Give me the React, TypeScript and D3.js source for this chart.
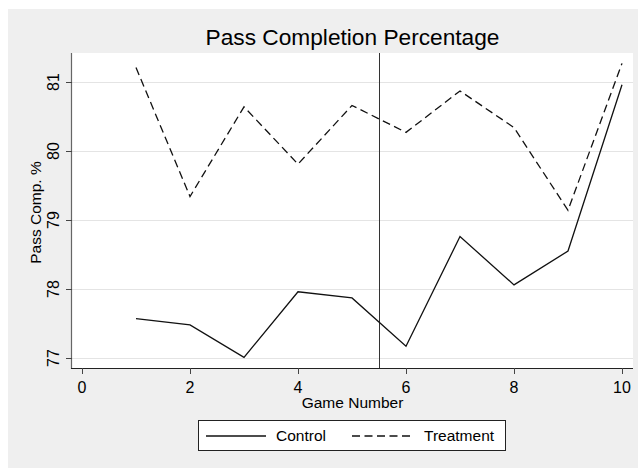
import React from "react";
import * as d3 from "d3";

// Game numbers and completion percentages per group
const games = [1, 2, 3, 4, 5, 6, 7, 8, 9, 10];
const control = [77.57, 77.48, 77.01, 77.96, 77.87, 77.17, 78.76, 78.06, 78.55, 80.96];
const treatment = [81.21, 79.34, 80.64, 79.81, 80.66, 80.27, 80.87, 80.34, 79.14, 81.27];
const xTicks = [0, 2, 4, 6, 8, 10];
const yTicks = [77, 78, 79, 80, 81];
const cutoff = 5.5;

const W = 638;
const H = 468;
const FONT = "'Liberation Sans', Arial, sans-serif";

const plot = { left: 72, right: 633, top: 53, bottom: 368 };

export default function App() {
  // 0..10 maps to 82..622 px, 77..81 maps to 358..82 px
  const x = d3.scaleLinear().domain([0, 10]).range([82, 622]);
  const y = d3.scaleLinear().domain([77, 81]).range([358, 82]);

  const line = d3
    .line<number>()
    .x((_, i) => x(games[i]))
    .y((d) => y(d));

  const cx = (plot.left + plot.right) / 2;
  const cy = (plot.top + plot.bottom) / 2;

  return (
    <svg
      width={W}
      height={H}
      style={{ position: "absolute", left: 0, top: 0, fontFamily: FONT }}
    >
      <rect x={0} y={0} width={W} height={H} fill="#ffffff" />
      <rect x={8} y={9} width={W - 8} height={H - 9} fill="#efefef" />
      <rect
        x={plot.left}
        y={plot.top}
        width={plot.right - plot.left}
        height={plot.bottom - plot.top}
        fill="#ffffff"
      />

      {/* horizontal grid */}
      {yTicks.map((t) => (
        <line
          key={"g" + t}
          x1={plot.left}
          x2={plot.right}
          y1={Math.round(y(t)) + 0.5}
          y2={Math.round(y(t)) + 0.5}
          stroke="#e4e4e4"
          strokeWidth={1}
        />
      ))}

      {/* reference line between games 5 and 6 */}
      <line
        x1={Math.round(x(cutoff)) + 0.5}
        x2={Math.round(x(cutoff)) + 0.5}
        y1={plot.top}
        y2={plot.bottom}
        stroke="#333333"
        strokeWidth={1}
      />

      <path
        d={line(treatment) ?? ""}
        fill="none"
        stroke="#111111"
        strokeWidth={1.3}
        strokeDasharray="8,4.5"
      />
      <path d={line(control) ?? ""} fill="none" stroke="#111111" strokeWidth={1.3} />

      {/* y axis */}
      <line x1={71.5} x2={71.5} y1={plot.top} y2={plot.bottom + 1} stroke="#666666" strokeWidth={1.2} />
      {yTicks.map((t) => (
        <g key={"y" + t}>
          <line
            x1={66}
            x2={72}
            y1={Math.round(y(t)) + 0.5}
            y2={Math.round(y(t)) + 0.5}
            stroke="#444444"
            strokeWidth={1}
          />
          <text
            transform={`translate(59,${y(t)}) rotate(-90)`}
            textAnchor="middle"
            fontSize={16}
            fill="#000"
          >
            {t}
          </text>
        </g>
      ))}
      <text
        transform={`translate(41,${cy + 2}) rotate(-90)`}
        textAnchor="middle"
        fontSize={15.5}
        fill="#000"
      >
        Pass Comp. %
      </text>

      {/* x axis */}
      <line x1={71} x2={plot.right} y1={368.5} y2={368.5} stroke="#222222" strokeWidth={1.2} />
      {xTicks.map((t) => (
        <g key={"x" + t}>
          <line
            x1={Math.round(x(t)) + 0.5}
            x2={Math.round(x(t)) + 0.5}
            y1={368}
            y2={374}
            stroke="#444444"
            strokeWidth={1}
          />
          <text x={x(t)} y={393} textAnchor="middle" fontSize={16} fill="#000">
            {t}
          </text>
        </g>
      ))}
      <text x={cx} y={408} textAnchor="middle" fontSize={15.5} fill="#000">
        Game Number
      </text>

      <text x={cx} y={45} textAnchor="middle" fontSize={22.7} fill="#000">
        Pass Completion Percentage
      </text>

      {/* legend */}
      <rect x={198.5} y={420.5} width={307} height={30} fill="#ffffff" stroke="#222222" strokeWidth={1} />
      <line x1={206} x2={266} y1={436} y2={436} stroke="#111111" strokeWidth={1.3} />
      <text x={276} y={441} fontSize={15.5} fill="#000">
        Control
      </text>
      <line
        x1={352}
        x2={413}
        y1={436}
        y2={436}
        stroke="#111111"
        strokeWidth={1.3}
        strokeDasharray="8,4.5"
      />
      <text x={424} y={441} fontSize={15.5} fill="#000">
        Treatment
      </text>
    </svg>
  );
}
